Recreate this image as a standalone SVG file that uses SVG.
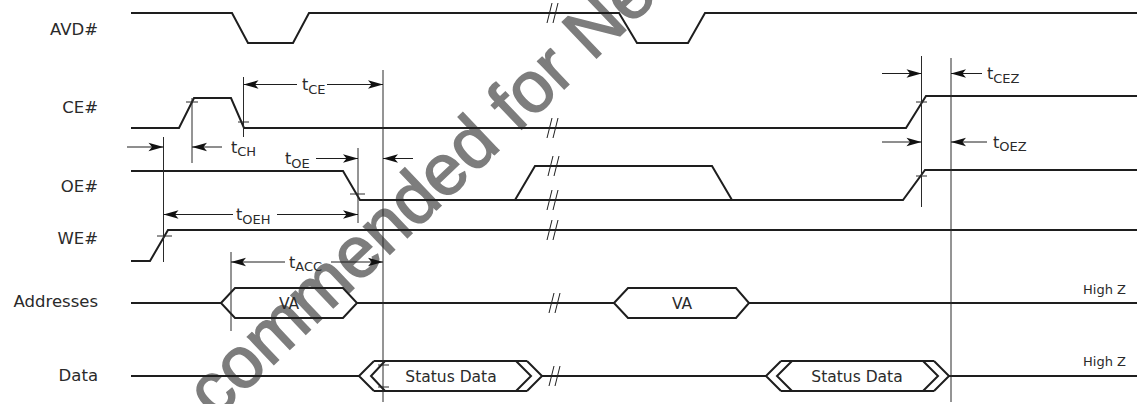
<svg xmlns="http://www.w3.org/2000/svg" width="1142" height="404" viewBox="0 0 1142 404">
<style>
.bg{fill:#ffffff}
.sig{fill:none;stroke:#1e1e1e;stroke-width:2;stroke-linejoin:miter}
.ref{fill:none;stroke:#2a2a2a;stroke-width:1}
.brk{fill:none;stroke:#1e1e1e;stroke-width:1}
.arr{fill:none;stroke:#1e1e1e;stroke-width:1;marker-end:url(#ah)}
.lbl{font-family:"DejaVu Sans",sans-serif;font-size:16.5px;fill:#2a2a2a;text-anchor:end}
.tm{font-family:"DejaVu Sans",sans-serif;font-size:16px;fill:#2a2a2a}
.sub{font-size:13px}
.box{font-family:"DejaVu Sans",sans-serif;font-size:15.5px;fill:#2a2a2a;text-anchor:middle}
.hz{font-family:"DejaVu Sans",sans-serif;font-size:13px;fill:#2a2a2a;text-anchor:end}
.wm{font-family:"Liberation Sans",Arial,sans-serif;font-size:72px;fill:#7d7d7d;stroke:#7d7d7d;stroke-width:1.6}
</style>
<defs>
<marker id="ah" markerUnits="userSpaceOnUse" markerWidth="18" markerHeight="10" refX="15" refY="5" orient="auto" overflow="visible">
<path d="M15,5 L0,0.8 L3.5,5 L0,9.2 Z" fill="#111111"/>
</marker>
<g id="brkmark"><path class="brk" d="M-6,10 L-1,-10 M0,10 L5,-10"/></g>
</defs>
<rect class="bg" x="0" y="0" width="1142" height="404"/>

<text class="wm" x="215" y="420" transform="rotate(-43.5 215 420)">commended for Ne</text>

<g id="avd">
<text class="lbl" x="98" y="35">AVD#</text>
<path class="sig" d="M131,13 H232 L248,43 H293 L309,13 H619 L637,43 H688 L705,13 H1137"/>
<use href="#brkmark" x="553" y="13"/>
</g>

<g id="ce">
<text class="lbl" x="98" y="113">CE#</text>
<path class="sig" d="M131,128 H179 L194,98 H231 L244,128 H906 L926,96 H1137"/>
<use href="#brkmark" x="553" y="128"/>
<path class="ref" d="M186,102 H198 M238,122 H249 M916,102 H927"/>
</g>

<g id="oe">
<text class="lbl" x="98" y="191.5">OE#</text>
<path class="sig" d="M131,171 H343 L360,200 H903 L925,170 H1137"/>
<path class="sig" d="M515,200 L535,166 H712 L732,200"/>
<use href="#brkmark" x="554" y="166"/>
<use href="#brkmark" x="553" y="200"/>
<path class="ref" d="M350,194 H365 M916,176 H927"/>
</g>

<g id="we">
<text class="lbl" x="98" y="244">WE#</text>
<path class="sig" d="M131,261 H150 L168,230 H1137"/>
<use href="#brkmark" x="553" y="230"/>
<path class="ref" d="M157,236 H172"/>
</g>

<g id="addresses">
<text class="lbl" x="98" y="307">Addresses</text>
<path class="sig" d="M131,303 H221 M357,303 H614 M749,303 H1137"/>
<path class="sig" d="M221,303 L235,288 H343 L357,303 L343,318 H235 Z"/>
<path class="sig" d="M614,303 L628,288 H736 L749,303 L736,318 H628 Z"/>
<text class="box" x="289" y="309">VA</text>
<text class="box" x="682" y="309">VA</text>
<use href="#brkmark" x="555" y="303"/>
<text class="hz" x="1126" y="294">High Z</text>
</g>

<g id="data">
<text class="lbl" x="98" y="381">Data</text>
<path class="sig" d="M131,376 H359 M542,376 H766 M949,376 H1137"/>
<path class="sig" d="M374,361 L359,376 L374,391 M374,361 H527 M374,391 H527 M527,361 L542,376 L527,391 M385,361 L371,376 L385,391 M516,361 L531,376 L516,391"/>
<path class="sig" d="M781,361 L766,376 L781,391 M781,361 H934 M781,391 H934 M934,361 L949,376 L934,391 M792,361 L777,376 L792,391 M923,361 L938,376 L923,391"/>
<text class="box" x="451" y="381.5">Status Data</text>
<text class="box" x="857" y="381.5">Status Data</text>
<use href="#brkmark" x="555" y="376"/>
<path class="ref" d="M378,365 H389 M378,387 H389"/>
<text class="hz" x="1126" y="366">High Z</text>
</g>

<g id="connectors">
<path class="ref" d="M192,98 V163 M243.5,77 V137 M383,70 V402 M163.5,137 V262 M358,148 V223 M231,252 V331 M921.5,56 V207 M951,58 V402"/>
<path class="arr" d="M297,84.5 H243.5"/>
<path class="arr" d="M327,84.5 H383"/>
<path class="arr" d="M127,147 H163.5"/>
<path class="arr" d="M222,147 H192"/>
<path class="arr" d="M316,158.5 H358"/>
<path class="arr" d="M413,158.5 H383"/>
<path class="arr" d="M233,214.5 H163.5"/>
<path class="arr" d="M277,214.5 H358"/>
<path class="arr" d="M285,262 H231"/>
<path class="arr" d="M331,262 H383"/>
<path class="arr" d="M882,73.5 H921.5"/>
<path class="arr" d="M982,73.5 H951"/>
<path class="arr" d="M882,142 H921.5"/>
<path class="arr" d="M987,142 H951"/>
<text class="tm" x="302" y="90">t<tspan class="sub" dy="3.5">CE</tspan></text>
<text class="tm" x="231" y="152.5">t<tspan class="sub" dy="3.5">CH</tspan></text>
<text class="tm" x="285" y="164">t<tspan class="sub" dy="3.5">OE</tspan></text>
<text class="tm" x="236" y="220">t<tspan class="sub" dy="3.5">OEH</tspan></text>
<text class="tm" x="289" y="267.5">t<tspan class="sub" dy="3.5">ACC</tspan></text>
<text class="tm" x="987" y="79">t<tspan class="sub" dy="3.5">CEZ</tspan></text>
<text class="tm" x="993" y="147.5">t<tspan class="sub" dy="3.5">OEZ</tspan></text>
</g>
</svg>
